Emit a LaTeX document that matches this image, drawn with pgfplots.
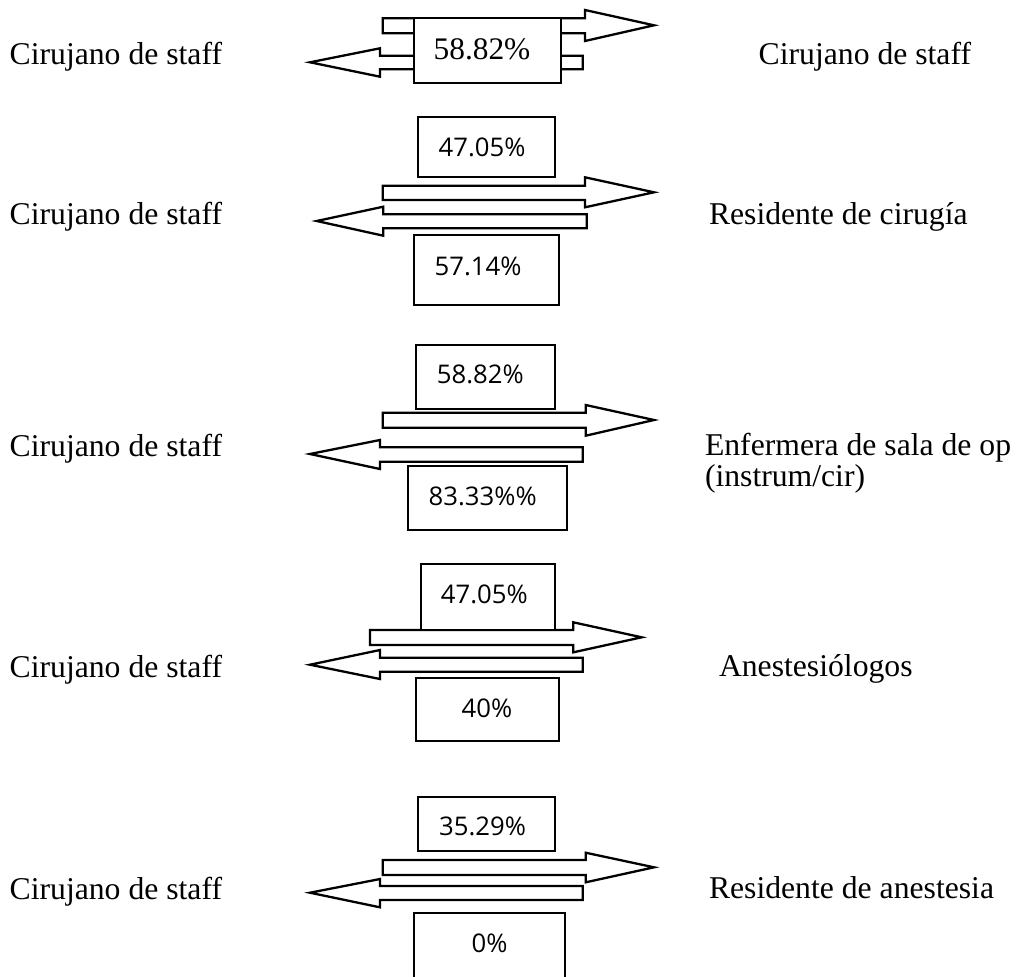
\documentclass[border=0pt]{standalone}
\usepackage{fontspec}
\usepackage{pgfplots}
\pgfplotsset{compat=1.18}
\setmainfont{Liberation Serif}
\newfontfamily\pctfont{Open Sans}
\newfontfamily\pctserif{Liberation Serif}
\newcommand{\lbl}{\fontsize{31.8}{36}\selectfont\rmfamily}
\newcommand{\pct}{\fontsize{25.8}{30}\selectfont\pctfont}
\newcommand{\pcts}{\fontsize{31.5}{36}\selectfont\pctserif}
\begin{document}
\begin{tikzpicture}
\begin{axis}[
  scale only axis, width=1018bp, height=976bp,
  xmin=0, xmax=1018, ymin=0, ymax=976, y dir=reverse,
  hide axis, clip=true,
  shp/.style={draw=black, fill=white, line width=2.3bp, line join=miter, mark=none},
]
% frame (invisible) to fix the bounding box
\addplot[draw=none, fill=none, mark=none] coordinates {(0,0) (1018,976)};

% ---------- group 1: Cirujano de staff <-> Cirujano de staff ----------
\addplot[shp] coordinates {(382.7,18.3) (585,18.3) (585,10) (654,25.3) (585,41) (585,33.3) (382.7,33.3)} -- cycle;
\addplot[shp] coordinates {(582.7,55.7) (380,55.7) (380,48.3) (310,62.3) (380,76.7) (380,69.3) (582.7,69.3)} -- cycle;
\addplot[shp] coordinates {(414.3,18.3) (560.7,18.3) (560.7,82.7) (414.3,82.7)} -- cycle;

% ---------- group 2 ----------
\addplot[shp] coordinates {(418.3,116.7) (555,116.7) (555,177.3) (418.3,177.3)} -- cycle;
\addplot[shp] coordinates {(382.7,185.7) (585,185.7) (585,177.3) (654,192.3) (585,207.3) (585,200) (382.7,200)} -- cycle;
\addplot[shp] coordinates {(586.7,214.3) (383.3,214.3) (383.3,206.7) (316.7,221) (383.3,235.7) (383.3,228.3) (586.7,228.3)} -- cycle;
\addplot[shp] coordinates {(414.3,235) (559,235) (559,305) (414.3,305)} -- cycle;

% ---------- group 3 ----------
\addplot[shp] coordinates {(416,345) (555,345) (555,409.3) (416,409.3)} -- cycle;
\addplot[shp] coordinates {(382.7,412.7) (585.7,412.7) (585.7,405) (654,420) (585.7,435.7) (585.7,427.7) (382.7,427.7)} -- cycle;
\addplot[shp] coordinates {(582.7,447.3) (380,447.3) (380,440) (310,454) (380,469) (380,461.7) (582.7,461.7)} -- cycle;
\addplot[shp] coordinates {(408.3,466) (566.7,466) (566.7,530) (408.3,530)} -- cycle;

% ---------- group 4 ----------
\addplot[shp] coordinates {(370,630) (573.3,630) (573.3,622.3) (641.7,637.3) (573.3,652.3) (573.3,645) (370,645)} -- cycle;
\addplot[shp] coordinates {(420.7,564.3) (555,564.3) (555,630) (420.7,630)} -- cycle;
\addplot[shp] coordinates {(582.7,657.7) (380,657.7) (380,650) (310,664.7) (380,679) (380,671.7) (582.7,671.7)} -- cycle;
\addplot[shp] coordinates {(416,678.3) (558.7,678.3) (558.7,740.7) (416,740.7)} -- cycle;

% ---------- group 5 ----------
\addplot[shp] coordinates {(418.3,796.7) (555,796.7) (555,851) (418.3,851)} -- cycle;
\addplot[shp] coordinates {(382.7,860) (585.7,860) (585.7,852.7) (654,867.3) (585.7,882.3) (585.7,875) (382.7,875)} -- cycle;
\addplot[shp] coordinates {(582.7,886) (380,886) (380,879) (310,892.7) (380,907.3) (380,900) (582.7,900)} -- cycle;
\addplot[shp] coordinates {(414.3,912.7) (565,912.7) (565,990) (414.3,990)} -- cycle;

% ---------- percentages ----------
\node[anchor=base, inner sep=0, font=\pcts] at (axis cs:482,60) {58.82\%};
\node[anchor=base, inner sep=0, font=\pct] at (axis cs:482,156) {47.05\%};
\node[anchor=base, inner sep=0, font=\pct] at (axis cs:478,275) {57.14\%};
\node[anchor=base, inner sep=0, font=\pct] at (axis cs:480.3,383.3) {58.82\%};
\node[anchor=base, inner sep=0, font=\pct] at (axis cs:482.7,505) {83.33\%\%};
\node[anchor=base, inner sep=0, font=\pct] at (axis cs:484.3,603.3) {47.05\%};
\node[anchor=base, inner sep=0, font=\pct] at (axis cs:487,717.3) {40\%};
\node[anchor=base, inner sep=0, font=\pct] at (axis cs:482.5,835.7) {35.29\%};
\node[anchor=base, inner sep=0, font=\pct] at (axis cs:489.5,952.3) {0\%};

% ---------- left labels ----------
\node[anchor=base west, inner sep=0, font=\lbl] at (axis cs:9.5,64.3) {Cirujano de staff};
\node[anchor=base west, inner sep=0, font=\lbl] at (axis cs:9.5,224) {Cirujano de staff};
\node[anchor=base west, inner sep=0, font=\lbl] at (axis cs:9.5,456.7) {Cirujano de staff};
\node[anchor=base west, inner sep=0, font=\lbl] at (axis cs:9.5,677.7) {Cirujano de staff};
\node[anchor=base west, inner sep=0, font=\lbl] at (axis cs:9.5,899.3) {Cirujano de staff};

% ---------- right labels ----------
\node[anchor=base west, inner sep=0, font=\lbl] at (axis cs:758.5,64.3) {Cirujano de staff};
\node[anchor=base west, inner sep=0, font=\lbl] at (axis cs:708.8,224) {Residente de cirugía};
\node[anchor=base west, inner sep=0, font=\lbl] at (axis cs:704.8,455.7) {Enfermera de sala de op};
\node[anchor=base west, inner sep=0, font=\lbl] at (axis cs:704.8,486) {(instrum/cir)};
\node[anchor=base west, inner sep=0, font=\lbl] at (axis cs:718.8,676.7) {Anestesiólogos};
\node[anchor=base west, inner sep=0, font=\lbl] at (axis cs:708.8,898.3) {Residente de anestesia};
\end{axis}
\end{tikzpicture}
\end{document}
